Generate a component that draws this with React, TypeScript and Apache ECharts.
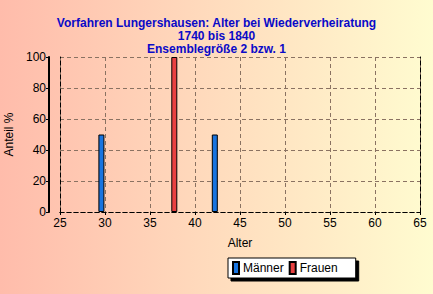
import React, { useEffect, useRef } from "react";
import * as echarts from "echarts";

const titleLines = [
  "Vorfahren Lungershausen: Alter bei Wiederverheiratung",
  "1740 bis 1840",
  "Ensemblegröße 2 bzw. 1",
];
const seriesNames = ["Männer", "Frauen"];
const maennerData: [number, number][] = [
  [29.6, 50],
  [42.2, 50],
];
const frauenData: [number, number][] = [[37.7, 100]];
const xMin = 25;
const xMax = 65;
const xStep = 5;
const yMin = 0;
const yMax = 100;
const yStep = 20;

export default function App() {
  const ref = useRef<HTMLDivElement>(null);
  useEffect(() => {
    if (!ref.current) return;
    const chart = echarts.init(ref.current, undefined, { renderer: "svg" });
    const font = "'Liberation Sans', Arial, sans-serif";
    const gridColor = "#8a7262";
    chart.setOption({
      animation: false,
      backgroundColor: {
        type: "linear",
        x: 0,
        y: 0,
        x2: 1,
        y2: 0,
        colorStops: [
          { offset: 0, color: "#FFBCAB" },
          { offset: 1, color: "#FFFCD0" },
        ],
      },
      title: {
        text: titleLines.join("\n"),
        left: "center",
        top: 11,
        textStyle: {
          fontFamily: font,
          fontSize: 12,
          fontWeight: "bold",
          color: "#0A0AC8",
          lineHeight: 13,
        },
      },
      legend: {
        data: seriesNames,
        left: 228,
        top: 258,
        orient: "horizontal",
        backgroundColor: "#ffffff",
        borderColor: "#000000",
        borderWidth: 1,
        borderRadius: 0,
        padding: [3, 18, 3, 4],
        itemWidth: 6,
        itemHeight: 12,
        itemGap: 5,
        shadowColor: "#000000",
        shadowBlur: 0,
        shadowOffsetX: 3,
        shadowOffsetY: 3,
        textStyle: { fontFamily: font, fontSize: 12, color: "#000", padding: [0, 0, 0, -1] },
        icon: "rect",
      },
      grid: { left: 60, right: 13, top: 57, bottom: 82, outerBoundsMode: "none" },
      xAxis: [
        {
          type: "value",
          min: xMin,
          max: xMax,
          interval: xStep,
          position: "bottom",
          name: "Alter",
          nameLocation: "middle",
          nameGap: 25,
          nameTextStyle: { fontFamily: font, fontSize: 12, color: "#000" },
          axisLine: { show: true, lineStyle: { color: "#000", type: [4, 3], width: 1 } },
          axisTick: { show: true, length: 3, lineStyle: { color: "#000" } },
          axisLabel: { fontFamily: font, fontSize: 12, color: "#000", margin: 5 },
          splitLine: { show: true, lineStyle: { color: gridColor, type: [4, 3], width: 1 } },
        },
        {
          type: "value",
          min: xMin,
          max: xMax,
          interval: xStep,
          position: "top",
          axisLine: { show: true, lineStyle: { color: "#000", type: [4, 3], width: 1 } },
          axisTick: { show: false },
          axisLabel: { show: false },
          splitLine: { show: false },
        },
      ],
      yAxis: [
        {
          type: "value",
          min: yMin,
          max: yMax,
          interval: yStep,
          position: "left",
          offset: 11,
          name: "Anteil %",
          nameLocation: "middle",
          nameGap: 28,
          nameTextStyle: { fontFamily: font, fontSize: 12, color: "#000" },
          axisLine: { show: true, lineStyle: { color: "#000", width: 2 } },
          axisTick: { show: true, length: 3, lineStyle: { color: "#000" } },
          axisLabel: { fontFamily: font, fontSize: 12, color: "#000", margin: 3 },
          splitLine: { show: true, lineStyle: { color: gridColor, type: [4, 3], width: 1 } },
        },
        {
          type: "value",
          min: yMin,
          max: yMax,
          interval: yStep,
          position: "left",
          offset: 0,
          axisLine: { show: true, lineStyle: { color: "#000", type: [4, 3], width: 1 } },
          axisTick: { show: false },
          axisLabel: { show: false },
          splitLine: { show: false },
        },
        {
          type: "value",
          min: yMin,
          max: yMax,
          interval: yStep,
          position: "right",
          axisLine: { show: true, lineStyle: { color: "#000", type: [4, 3], width: 1 } },
          axisTick: { show: false },
          axisLabel: { show: false },
          splitLine: { show: false },
        },
      ],
      series: [
        {
          name: seriesNames[0],
          type: "bar",
          xAxisIndex: 0,
          yAxisIndex: 0,
          data: maennerData,
          barWidth: 6,
          barGap: "-100%",
          itemStyle: { color: "#1874E0", borderColor: "#000", borderWidth: 1 },
        },
        {
          name: seriesNames[1],
          type: "bar",
          xAxisIndex: 0,
          yAxisIndex: 0,
          data: frauenData,
          barWidth: 6,
          barGap: "-100%",
          itemStyle: { color: "#E84040", borderColor: "#000", borderWidth: 1 },
        },
      ],
    });
    return () => chart.dispose();
  }, []);
  return (
    <div
      ref={ref}
      style={{ position: "absolute", left: 0, top: 0, width: 433, height: 294 }}
    />
  );
}
